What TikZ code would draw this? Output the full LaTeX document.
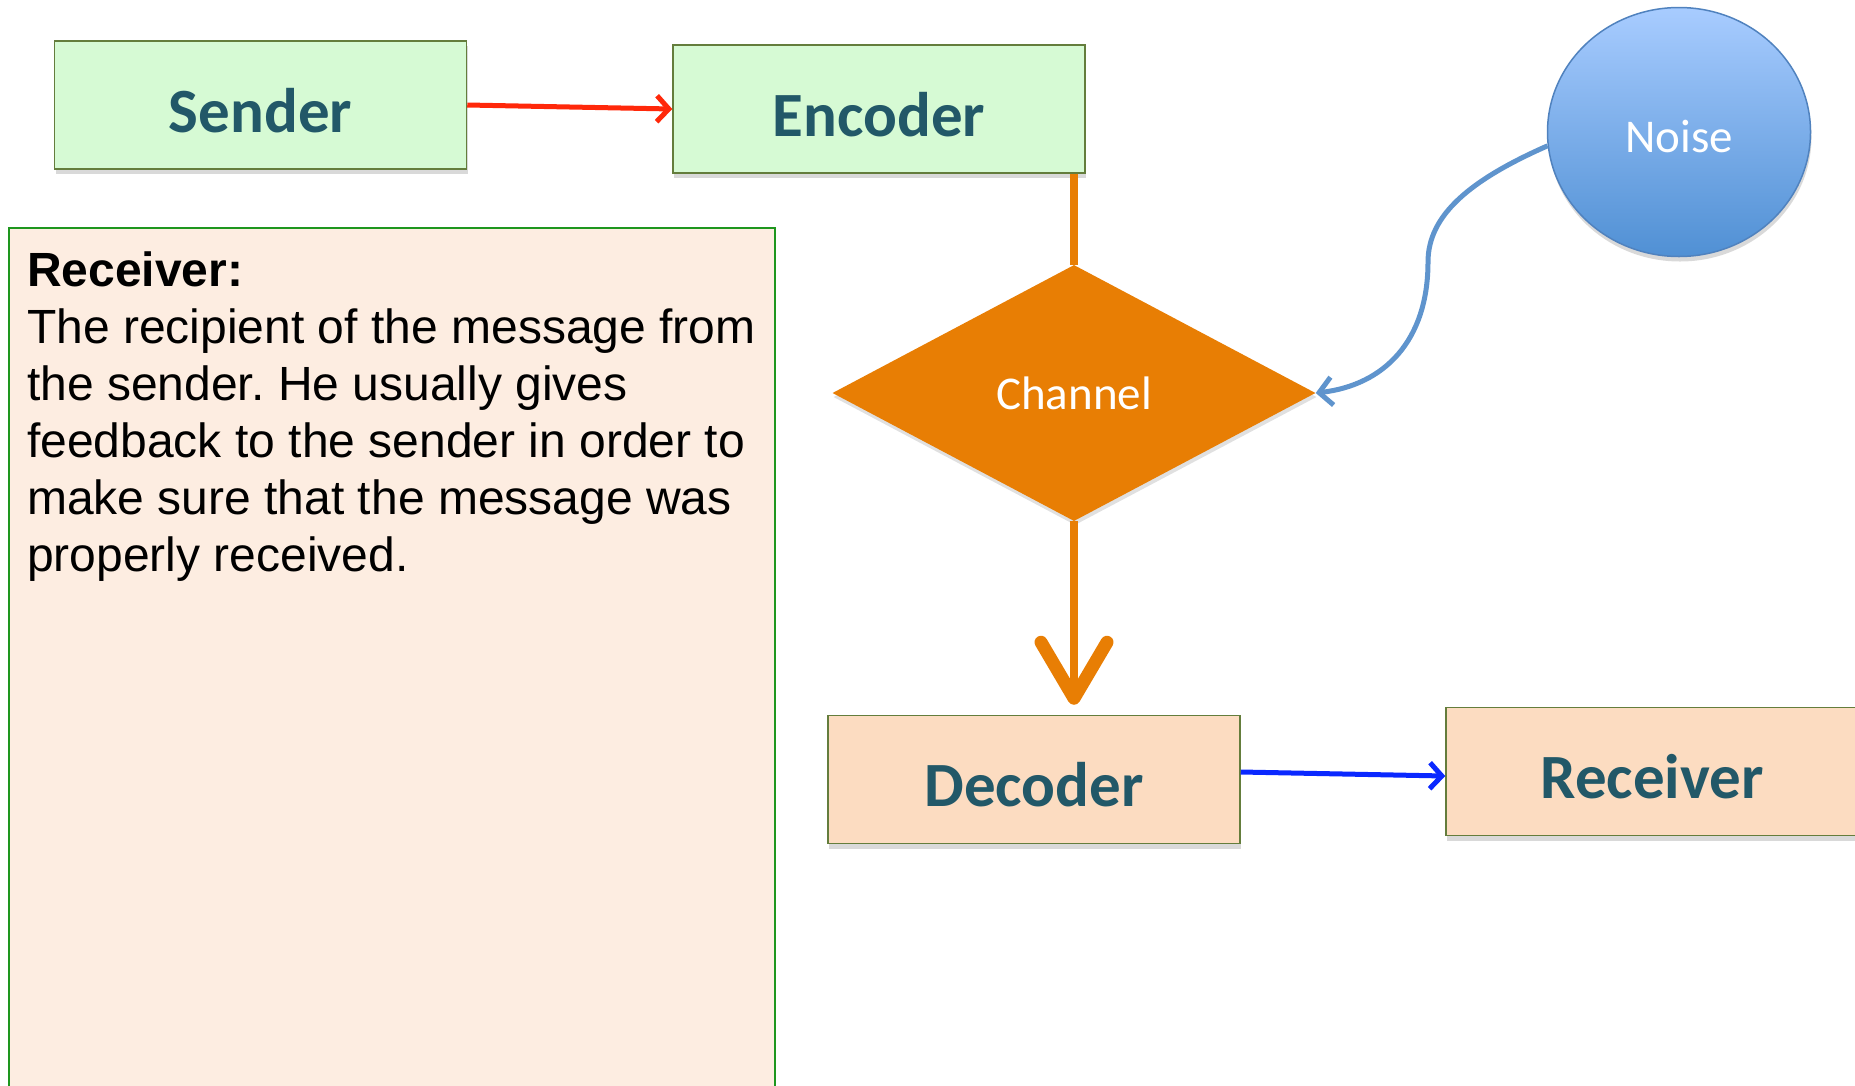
\documentclass[tikz,border=0pt]{standalone}
\usepackage{fontspec}
\setmainfont{Liberation Sans}
\newfontfamily\calfont{Carlito}
\usetikzlibrary{arrows.meta,shapes.geometric,shadows,calc}
\frenchspacing
\definecolor{boxgreen}{RGB}{214,250,212}
\definecolor{boxpeach}{RGB}{252,220,193}
\definecolor{notefill}{RGB}{253,237,225}
\definecolor{oliveedge}{RGB}{100,125,60}
\definecolor{noteedge}{RGB}{30,150,30}
\definecolor{tealtext}{RGB}{34,88,104}
\definecolor{chanorange}{RGB}{232,126,4}
\definecolor{noisetop}{RGB}{168,204,255}
\definecolor{noisebot}{RGB}{80,144,212}
\definecolor{noiseedge}{RGB}{80,130,190}
\definecolor{noiseline}{RGB}{95,148,205}
\definecolor{redarrow}{RGB}{255,40,10}
\definecolor{bluearrow}{RGB}{10,40,255}
\tikzset{
  softshadow/.style={drop shadow={shadow xshift=1pt,shadow yshift=-5pt,opacity=0.15,fill=black}},
  flowbox/.style={rectangle,draw=oliveedge,line width=1.5pt,minimum width=412pt,minimum height=128pt,inner sep=0pt,
    text height=54pt,text depth=0pt,
    font=\calfont\bfseries\fontsize{63}{70}\selectfont,text=tealtext,softshadow},
  greenbox/.style={flowbox,fill=boxgreen},
  peachbox/.style={flowbox,fill=boxpeach},
  thinarrow/.style={line width=5pt,-{Straight Barb[length=12pt,width=26pt,line width=5pt]}},
}
\begin{document}
\begin{tikzpicture}[x=1pt,y=-1pt]
\useasboundingbox (0,0) rectangle (1855,1085);
% boxes
\node[greenbox] (sender) at (260.5,105) {Sender};
\node[greenbox] (encoder) at (879,109) {Encoder};
\node[peachbox] (decoder) at (1034,779.5) {Decoder};
\node[peachbox] (receiver) at (1652,771.5) {Receiver};
% channel
\node[diamond,fill=chanorange,minimum width=483pt,minimum height=256pt,inner sep=0pt,
      drop shadow={shadow xshift=1pt,shadow yshift=-4pt,opacity=0.12,fill=black},
      text=white,font=\calfont\fontsize{47}{52}\selectfont] (ch) at (1074,393) {Channel};
% noise
\node[ellipse,draw=noiseedge,line width=1.5pt,top color=noisetop,bottom color=noisebot,
      minimum width=263pt,minimum height=249pt,inner sep=0pt,softshadow,
      text height=40pt,text depth=0pt,
      text=white,font=\calfont\fontsize{47}{52}\selectfont] (noise) at (1679,132) {Noise};
% note box
\node[rectangle,draw=noteedge,line width=1.5pt,fill=notefill,anchor=north west,
      minimum width=766pt,minimum height=880pt,inner sep=0pt] (note) at (8,227) {};
\node[anchor=north west,align=left,inner sep=0pt,font=\fontsize{48}{57}\selectfont] (notetext) at (27,252)
  {\textbf{Receiver:}\\The recipient of the message from\\the sender. He usually gives\\feedback to the sender in order to\\make sure that the message was\\properly received.};
% connectors
\draw[redarrow,thinarrow] (sender.east) -- (encoder.west);
\draw[bluearrow,thinarrow] ([yshift=7.5pt]decoder.east) -- ([yshift=-4.5pt]receiver.west);
\draw[chanorange,line width=8pt] (ch.north |- encoder.south) -- (ch.north);
\draw[chanorange,line width=8pt,shorten >=10pt,
      -{Straight Barb[length=56pt,width=66pt,line width=13pt,round]}] (ch.south) -- (ch.south |- decoder.north);
\draw[noiseline,line width=5pt,-{Straight Barb[length=13pt,width=28pt,line width=5pt]}]
  (noise.186) .. controls (1470,180) and (1428,215) .. (1428,262)
  .. controls (1428,340) and (1385,385) .. (ch.east);
\end{tikzpicture}
\end{document}
